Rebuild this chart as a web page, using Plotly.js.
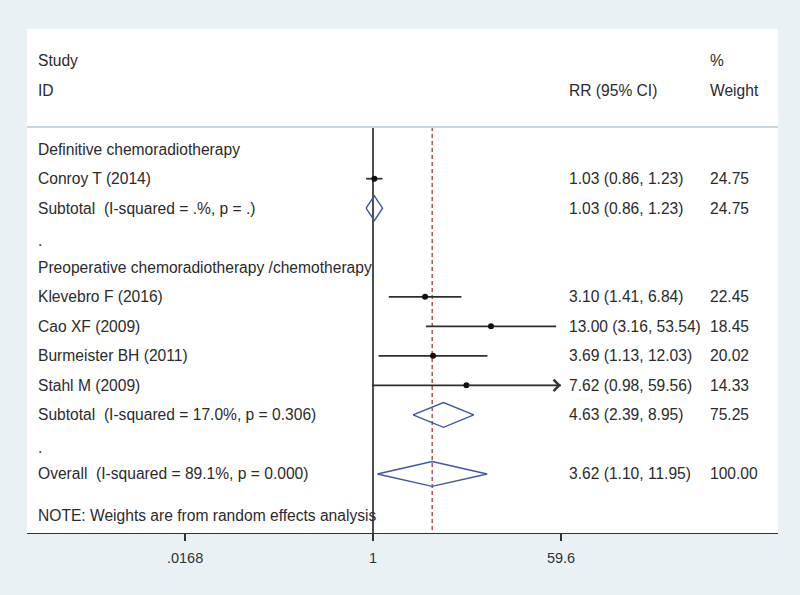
<!DOCTYPE html>
<html>
<head>
<meta charset="utf-8">
<script src="https://cdn.plot.ly/plotly-3.0.1.min.js"></script>
<style>html,body{margin:0;padding:0;background:#e9f1f5;}#chart{width:800px;height:595px;}</style>
</head>
<body>
<div id="chart"></div>
<script>
// ---- Data ----
const studies = ['Conroy T (2014)', 'Klevebro F (2016)', 'Cao XF (2009)', 'Burmeister BH (2011)', 'Stahl M (2009)'];
const studyRow = [2, 6, 7, 8, 9];
const studyRR = [1.03, 3.10, 13.00, 3.69, 7.62];
const studyLo = [0.86, 1.41, 3.16, 1.13, 0.98];
const studyHi = [1.23, 6.84, 53.54, 12.03, 59.56];
const studyWeight = ['24.75', '22.45', '18.45', '20.02', '14.33'];
const studyArrow = [false, false, false, false, true];

const pooledLabels = ['Subtotal\u00a0\u00a0(I-squared = .%, p = .)', 'Subtotal\u00a0\u00a0(I-squared = 17.0%, p = 0.306)', 'Overall\u00a0\u00a0(I-squared = 89.1%, p = 0.000)'];
const pooledRow = [3, 10, 12];
const pooledRR = [1.03, 4.63, 3.62];
const pooledLo = [0.86, 2.39, 1.10];
const pooledHi = [1.23, 8.95, 11.95];
const pooledWeight = ['24.75', '75.25', '100.00'];

const groupLabels = ['Definitive chemoradiotherapy', 'Preoperative chemoradiotherapy /chemotherapy'];
const groupRow = [1, 5];
const spacerRow = [4, 11];

const tickVals = [0.0168, 1, 59.6];
const tickText = ['.0168', '1', '59.6'];
const overallRR = pooledRR[2];

// ---- Layout constants ----
const topRow = 0.25, bottomRow = 14.0;
const colLabel = 0.012, colRR = 0.7195, colW = 0.907;
const font = {family: '"Liberation Sans", Arial, sans-serif', size: 15.6, color: '#2b2b2b'};
const fmt = v => v.toFixed(2);

const traces = [];
// null line
traces.push({x: [1, 1], y: [topRow, bottomRow], mode: 'lines', line: {color: '#222', width: 1.6}, hoverinfo: 'skip'});
// overall dashed line
traces.push({x: [overallRR, overallRR], y: [topRow, bottomRow], mode: 'lines', line: {color: '#a8383a', width: 1.3, dash: '4px,3px'}, hoverinfo: 'skip'});
// CI lines
const cx = [], cy = [];
studies.forEach((s, i) => { cx.push(studyLo[i], studyHi[i], null); cy.push(studyRow[i], studyRow[i], null); });
traces.push({x: cx, y: cy, mode: 'lines', line: {color: '#2e2e2e', width: 1.7}, hoverinfo: 'skip'});
// points
traces.push({x: studyRR, y: studyRow, mode: 'markers', marker: {color: '#111', size: 6, symbol: 'circle'}, hoverinfo: 'skip'});
// diamonds
const h = 0.42;
const dx = [], dy = [];
pooledRR.forEach((v, i) => {
  const r = pooledRow[i];
  dx.push(pooledLo[i], v, pooledHi[i], v, pooledLo[i], null);
  dy.push(r, r - h, r, r + h, r, null);
});
traces.push({x: dx, y: dy, mode: 'lines', line: {color: '#3e55a4', width: 1.4}, hoverinfo: 'skip'});

const ann = [];
function txt(x, y, t, anchor) {
  ann.push({xref: 'paper', yref: 'y', x: x, y: y, text: t, showarrow: false, xanchor: anchor || 'left', yanchor: 'middle', font: font});
}
// header
txt(colLabel, -2, 'Study');
txt(colLabel, -1, 'ID');
txt(colRR, -1, 'RR (95% CI)');
txt(colW, -2, '%');
txt(colW, -1, 'Weight');
groupLabels.forEach((g, i) => txt(colLabel, groupRow[i], g));
spacerRow.forEach(r => txt(colLabel, r + 0.1, '.'));
studies.forEach((s, i) => {
  txt(colLabel, studyRow[i], s);
  txt(colRR, studyRow[i], fmt(studyRR[i]) + ' (' + fmt(studyLo[i]) + ', ' + fmt(studyHi[i]) + ')');
  txt(colW, studyRow[i], studyWeight[i]);
  if (studyArrow[i]) {
    ann.push({xref: 'x', yref: 'y', axref: 'x', ayref: 'y', x: Math.log10(studyHi[i]), y: studyRow[i],
      ax: Math.log10(studyRR[i]), ay: studyRow[i], showarrow: true, arrowhead: 4, arrowsize: 2.2, arrowwidth: 1, arrowcolor: '#333', text: ''});
  }
});
pooledLabels.forEach((p, i) => {
  txt(colLabel, pooledRow[i], p);
  txt(colRR, pooledRow[i], fmt(pooledRR[i]) + ' (' + fmt(pooledLo[i]) + ', ' + fmt(pooledHi[i]) + ')');
  txt(colW, pooledRow[i], pooledWeight[i]);
});
txt(colLabel, 13.4, 'NOTE: Weights are from random effects analysis');

const layout = {
  width: 800, height: 595,
  margin: {l: 27, r: 22, t: 29, b: 62},
  paper_bgcolor: '#e9f1f5',
  plot_bgcolor: '#ffffff',
  showlegend: false,
  font: font,
  xaxis: {type: 'log', range: [-3.267, 3.824], tickvals: tickVals, ticktext: tickText,
    ticks: 'outside', ticklen: 7, tickwidth: 1.5, tickcolor: '#333', showline: true, linecolor: '#333', linewidth: 1.3,
    showgrid: false, zeroline: false, ticklabelstandoff: 4, tickfont: {family: font.family, size: 14.5, color: '#333'}, fixedrange: true},
  yaxis: {range: [bottomRow, -3.07], visible: false, showgrid: false, zeroline: false, fixedrange: true},
  shapes: [{type: 'line', xref: 'paper', yref: 'y', x0: 0, x1: 1, y0: topRow, y1: topRow, line: {color: '#c9d5dc', width: 2}}],
  annotations: ann
};
Plotly.newPlot('chart', traces, layout, {displayModeBar: false, staticPlot: true});
</script>
</body>
</html>
